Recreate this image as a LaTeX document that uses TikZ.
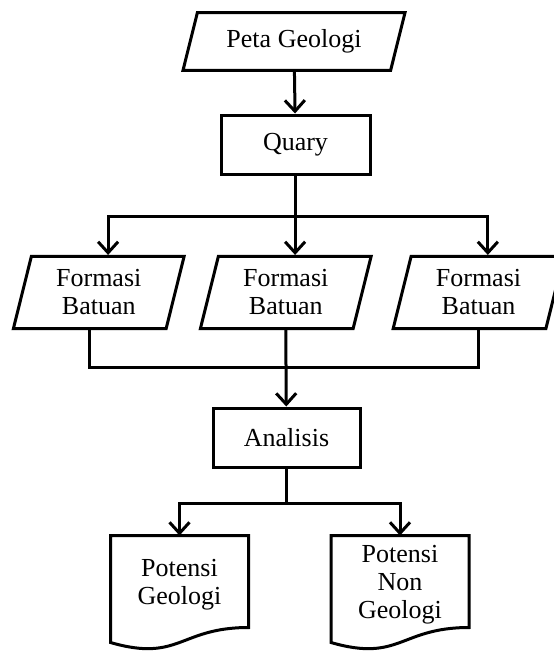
\documentclass[tikz,border=0pt]{standalone}
\usepackage{fontspec}
\setmainfont{Liberation Serif}
\usetikzlibrary{shapes.geometric,arrows.meta}

\begin{document}
\begin{tikzpicture}[x=1pt,y=1pt,line width=3pt,>={Straight Barb[length=11pt,width=20pt]},font=\fontsize{26}{28}\selectfont]
	\tikzstyle{io}=[draw, trapezium, trapezium left angle=76, trapezium right angle=104, align=center, inner sep=0pt]
	\tikzstyle{proc}=[draw, rectangle, minimum width=149, minimum height=59]
	\tikzstyle{doc}=[rectangle, minimum width=135, minimum height=115, inner sep=0pt]
	\tikzstyle{txt}=[align=center]

	\useasboundingbox (0,0) rectangle (554,-651);
	\clip (0,0) rectangle (554,-651);

	\node[io, trapezium stretches body, inner ysep=17pt, minimum width=222, minimum height=57] (peta) at (294,-41.5) {Peta Geologi};
	\node[proc] (quary) at (295.5,-144.5) {Quary};
	\node[io, minimum width=171, minimum height=71] (fb1) at (98.75,-292.5) {Formasi\\Batuan};
	\node[io, minimum width=171, minimum height=71] (fb2) at (285.75,-292.5) {Formasi\\Batuan};
	\node[io, minimum width=171, minimum height=71] (fb3) at (478.5,-292.5) {Formasi\\Batuan};
	\node[proc, minimum width=147] (analisis) at (286.5,-437.5) {Analisis};
	\node[doc] (geo) at (179.5,-594.5) {};
	\node[doc] (nongeo) at (400,-594.5) {};
	\node[txt] (geotxt) at ([yshift=10]geo.center) {Potensi\\Geologi};
	\node[txt] (nongeotxt) at ([yshift=10]nongeo.center) {Potensi\\Non\\Geologi};

	\coordinate (split) at (295.5,-216);
	\coordinate (join) at (286.5,-367);
	\coordinate (fork) at (286.5,-503);

	% document outlines
	\foreach \n in {geo,nongeo}
	\draw ([yshift=-107]\n.north west) -- (\n.north west) -- (\n.north east) -- ([yshift=-92]\n.north east)
		.. controls ([yshift=-92]\n.north) and ([yshift=-127]\n.north) .. ([yshift=-107]\n.north west) -- cycle;

	\draw[->] (peta) -- (quary);
	\draw (quary) -- (split);
	\foreach \to in {fb1,fb2,fb3}
	\draw[->] (split) -| (\to.top side);
	\draw (fb1.bottom side) |- (join) -| (fb3.south);
	\draw[->] (fb2.south) -- (analisis);
	\draw (analisis) -- (fork);
	\foreach \to in {geo,nongeo}
	\draw[->] (fork) -| (\to.north);
\end{tikzpicture}
\end{document}
